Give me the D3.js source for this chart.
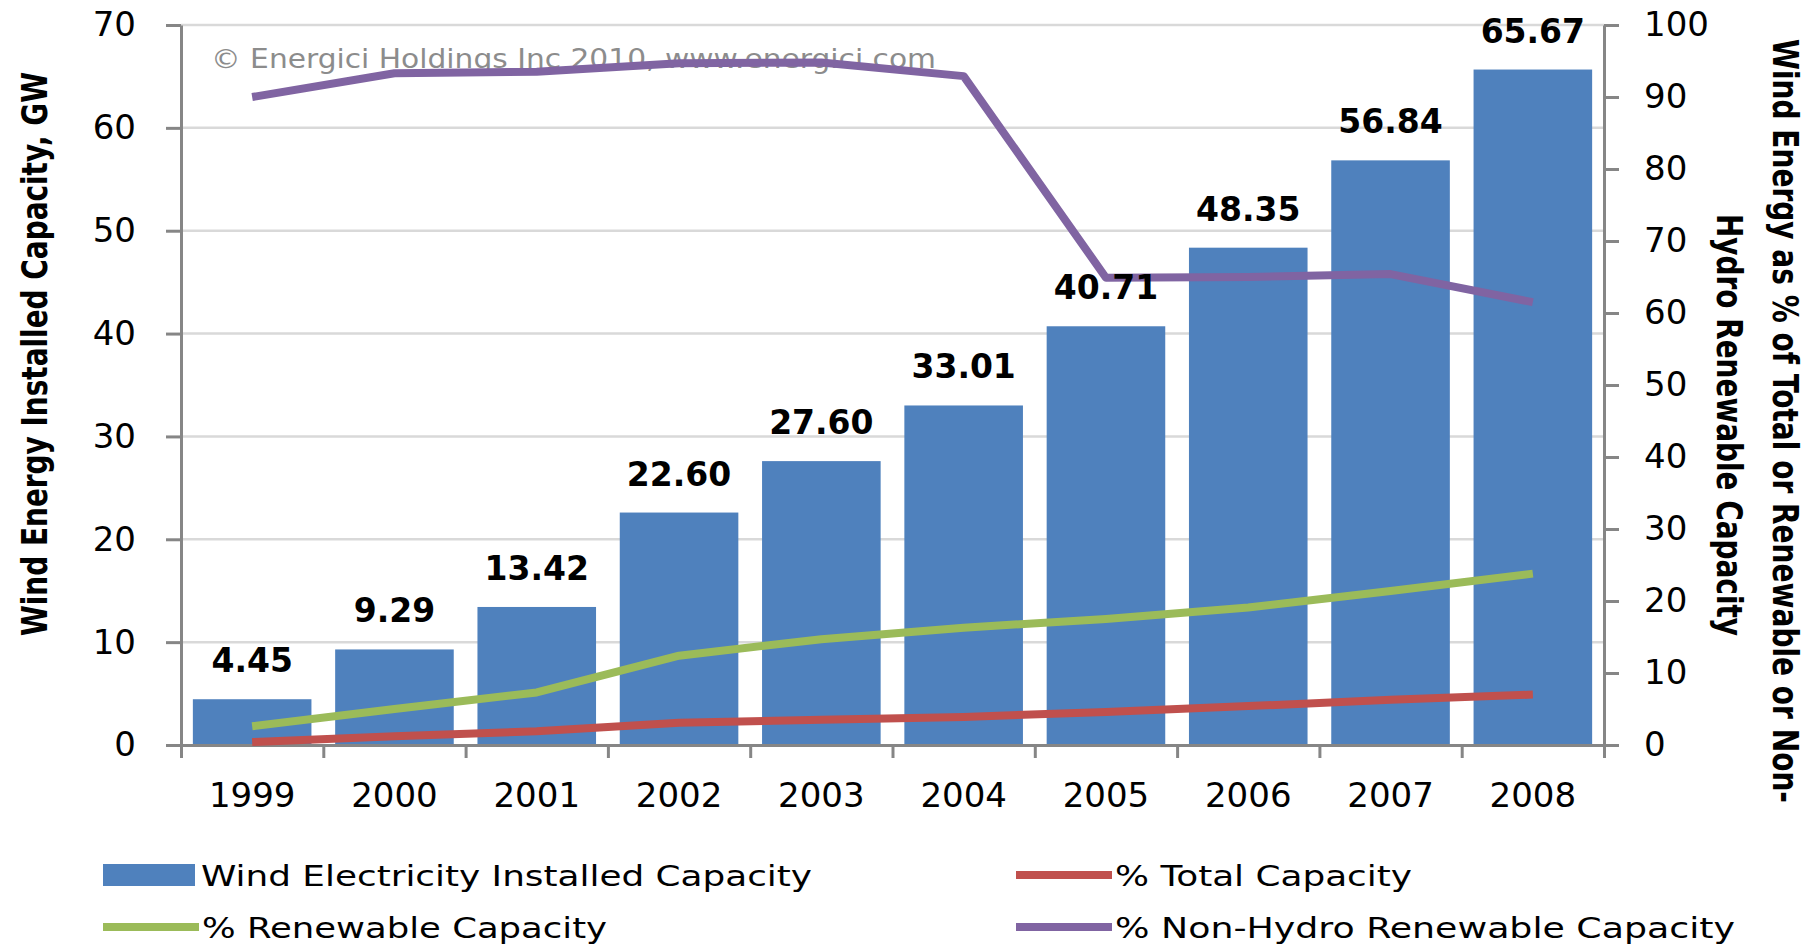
<!DOCTYPE html>
<html>
<head>
<meta charset="utf-8">
<script src="https://cdn.jsdelivr.net/npm/d3@7"></script>
<style>
  html, body { margin: 0; padding: 0; background: #fff; }
  svg text { font-family: "DejaVu Sans", Verdana, sans-serif; }
</style>
</head>
<body>
<svg id="chart"></svg>
<script>
// chart data
var years = ["1999", "2000", "2001", "2002", "2003", "2004", "2005", "2006", "2007", "2008"];
var capacityGW = [4.45, 9.29, 13.42, 22.60, 27.60, 33.01, 40.71, 48.35, 56.84, 65.67];
var pctTotal = [0.4, 1.2, 1.9, 3.1, 3.5, 3.9, 4.6, 5.4, 6.3, 7.0];
var pctRenewable = [2.6, 5.0, 7.3, 12.4, 14.7, 16.3, 17.5, 19.1, 21.4, 23.8];
var pctNonHydro = [90.0, 93.3, 93.5, 94.7, 94.8, 92.9, 64.9, 65.0, 65.4, 61.5];
var leftTicks = [0, 10, 20, 30, 40, 50, 60, 70];
var rightTicks = [0, 10, 20, 30, 40, 50, 60, 70, 80, 90, 100];

var width = 1812, height = 946;
// plot box (note: "top" is taken by window.top)
var plotL = 181, plotR = 1604, plotT = 25, plotB = 745;
var axisColor = "#868686", gridColor = "#d9d9d9";

var svg = d3.select("#chart").attr("width", width).attr("height", height);

var x = d3.scaleBand().domain(years).range([plotL, plotR])
    .paddingInner(1 / 6).paddingOuter(1 / 12);
var yL = d3.scaleLinear().domain([0, 70]).range([plotB, plotT]);
var yR = d3.scaleLinear().domain([0, 100]).range([plotB, plotT]);
var cx = function(d) { return x(d) + x.bandwidth() / 2; };

// gridlines
svg.append("g").selectAll("line")
    .data(leftTicks.filter(function(d) { return d > 0; }))
    .enter().append("line")
    .attr("x1", plotL).attr("x2", plotR)
    .attr("y1", yL).attr("y2", yL)
    .attr("stroke", gridColor).attr("stroke-width", 2.5);

// bars
svg.append("g").selectAll("rect")
    .data(capacityGW)
    .enter().append("rect")
    .attr("x", function(d, i) { return x(years[i]); })
    .attr("y", function(d) { return yL(d); })
    .attr("width", x.bandwidth())
    .attr("height", function(d) { return plotB - yL(d); })
    .attr("fill", "#4f81bd");

// axes
function styleAxis(g) {
  g.selectAll("path, line").attr("stroke", axisColor).attr("stroke-width", 3);
  g.selectAll("text").attr("fill", "#000").style("font-size", "34px")
    .style("font-family", "'DejaVu Sans', Verdana, sans-serif");
}

svg.append("g").attr("transform", "translate(" + plotL + ",0)")
    .call(d3.axisLeft(yL).tickValues(leftTicks).tickSize(15).tickSizeOuter(0).tickPadding(30))
    .call(styleAxis);

svg.append("g").attr("transform", "translate(" + plotR + ",0)")
    .call(d3.axisRight(yR).tickValues(rightTicks).tickSize(15).tickSizeOuter(0).tickPadding(25))
    .call(styleAxis);

// category boundaries on the bottom axis
var bounds = d3.scaleLinear().domain([0, years.length]).range([plotL, plotR]);
svg.append("g").attr("transform", "translate(0," + plotB + ")")
    .call(d3.axisBottom(bounds).tickValues(d3.range(years.length + 1)).tickFormat("").tickSize(13).tickSizeOuter(0))
    .call(styleAxis);

svg.append("g").selectAll("text")
    .data(years)
    .enter().append("text")
    .attr("x", cx).attr("y", 807)
    .attr("text-anchor", "middle")
    .style("font-size", "34px")
    .text(function(d) { return d; });

// watermark
svg.append("text")
    .attr("x", 211).attr("y", 68)
    .attr("fill", "#8c8c8c")
    .attr("textLength", 725).attr("lengthAdjust", "spacingAndGlyphs")
    .style("font-size", "26px")
    .text("\u00a9 Energici Holdings Inc 2010, www.energici.com");

// percentage lines
var series = [
  {values: pctTotal, color: "#c0504d"},
  {values: pctRenewable, color: "#9bbb59"},
  {values: pctNonHydro, color: "#8064a2"}
];
var line = d3.line()
    .x(function(d, i) { return cx(years[i]); })
    .y(function(d) { return yR(d); });

svg.append("g").selectAll("path")
    .data(series)
    .enter().append("path")
    .attr("d", function(s) { return line(s.values); })
    .attr("fill", "none")
    .attr("stroke", function(s) { return s.color; })
    .attr("stroke-width", 8)
    .attr("stroke-linejoin", "round");

// value labels
svg.append("g").selectAll("text")
    .data(capacityGW)
    .enter().append("text")
    .attr("x", function(d, i) { return cx(years[i]); })
    .attr("y", function(d) { return yL(d) - 27; })
    .attr("text-anchor", "middle")
    .style("font-size", "33px").style("font-weight", "bold")
    .text(function(d) { return d.toFixed(2); });

// axis titles
function title(tx, ty, rot, len, txt) {
  svg.append("text")
      .attr("transform", "translate(" + tx + "," + ty + ") rotate(" + rot + ")")
      .attr("text-anchor", "middle")
      .attr("textLength", len).attr("lengthAdjust", "spacingAndGlyphs")
      .style("font-size", "36px").style("font-weight", "bold")
      .text(txt);
}
title(47, 354, -90, 564, "Wind Energy Installed Capacity, GW");
title(1773, 421, 90, 764, "Wind Energy as % of Total or Renewable or Non-");
title(1717, 425, 90, 422, "Hydro Renewable Capacity");

// legend
var legend = [
  {label: "Wind Electricity Installed Capacity", kind: "rect", color: "#4f81bd", x: 103, y: 886, len: 611},
  {label: "% Total Capacity", kind: "line", color: "#c0504d", x: 1016, y: 886, len: 297},
  {label: "% Renewable Capacity", kind: "line", color: "#9bbb59", x: 103, y: 938, len: 405},
  {label: "% Non-Hydro Renewable Capacity", kind: "line", color: "#8064a2", x: 1016, y: 938, len: 620}
];
var lg = svg.append("g").selectAll("g").data(legend).enter().append("g");
lg.filter(function(d) { return d.kind === "rect"; }).append("rect")
    .attr("x", function(d) { return d.x; }).attr("y", function(d) { return d.y - 22; })
    .attr("width", 92).attr("height", 22)
    .attr("fill", function(d) { return d.color; });
lg.filter(function(d) { return d.kind === "line"; }).append("line")
    .attr("x1", function(d) { return d.x; }).attr("x2", function(d) { return d.x + 96; })
    .attr("y1", function(d) { return d.y - 11; }).attr("y2", function(d) { return d.y - 11; })
    .attr("stroke", function(d) { return d.color; }).attr("stroke-width", 8);
lg.append("text")
    .attr("x", function(d) { return d.kind === "rect" ? d.x + 98 : d.x + 99; })
    .attr("y", function(d) { return d.y; })
    .attr("textLength", function(d) { return d.len; }).attr("lengthAdjust", "spacingAndGlyphs")
    .style("font-size", "29px")
    .text(function(d) { return d.label; });
</script>
</body>
</html>
